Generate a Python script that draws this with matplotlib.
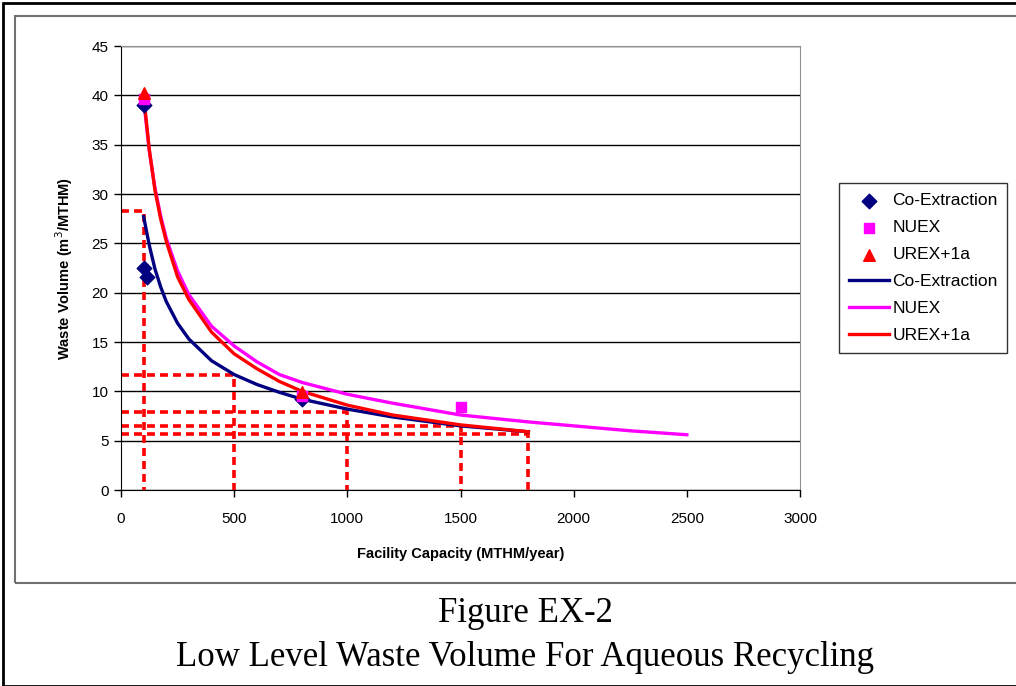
import matplotlib
matplotlib.use("Agg")
import matplotlib.pyplot as plt
from matplotlib.patches import Rectangle

# ---------- data ----------
# point markers (facility capacity, waste volume)
co_pts_x = [100, 100, 115, 800]
co_pts_y = [39.0, 22.5, 21.6, 9.2]
nuex_pts_x = [100, 800, 1500]
nuex_pts_y = [39.6, 9.5, 8.4]
urex_pts_x = [100, 800]
urex_pts_y = [40.2, 9.9]

# fitted curves
cap = [100, 125, 150, 175, 200, 250, 300, 400, 500, 600, 700, 800, 1000, 1200, 1500, 1800]
co_line = [27.7, 24.8, 22.4, 20.6, 19.1, 16.9, 15.3, 13.1, 11.7, 10.7, 9.9, 9.2, 8.2, 7.4, 6.5, 5.9]
urex_line = [40.0, 34.5, 30.4, 27.5, 25.2, 21.6, 19.3, 16.0, 13.8, 12.3, 11.0, 10.0, 8.6, 7.6, 6.6, 5.9]
nuex_cap = [100, 125, 150, 175, 200, 250, 300, 400, 500, 600, 700, 800, 1000, 1200,
            1500, 1800, 2000, 2250, 2500]
nuex_line = [39.5, 34.4, 30.6, 27.8, 25.5, 22.2, 19.8, 16.6, 14.6, 13.0, 11.7, 10.9, 9.7, 8.8,
             7.6, 6.9, 6.5, 6.0, 5.6]

# reference read-off lines (red dashed)
ref_x = [100, 500, 1000, 1500, 1800]
ref_y = [28.3, 11.7, 7.9, 6.5, 5.7]

xticks = [0, 500, 1000, 1500, 2000, 2500, 3000]
yticks = [0, 5, 10, 15, 20, 25, 30, 35, 40, 45]

navy = "#000080"
magenta = "#FF00FF"
red = "#FF0000"

plt.rcParams["font.family"] = ["Liberation Sans", "DejaVu Sans"]

W, H = 1016, 686
fig = plt.figure(figsize=(W / 100, H / 100), dpi=100)

# outer frames
fig.patches.append(Rectangle((3 / W, 0), 1.0, 1 - 3 / H, transform=fig.transFigure,
                             fill=False, edgecolor="black", linewidth=2))
fig.patches.append(Rectangle((15 / W, 1 - 583 / H), 1.0, (583 - 16) / H,
                             transform=fig.transFigure, fill=False,
                             edgecolor="#707070", linewidth=1.5))

ax = fig.add_axes([121 / W, 1 - 490 / H, (800 - 121) / W, (490 - 46) / H])

# red dashed reference lines
for rx, ry in zip(ref_x, ref_y):
    ax.plot([0, rx, rx], [ry, ry, 0], color=red, linestyle=(0, (2.2, 1.4)),
            linewidth=2.6, zorder=2, solid_joinstyle="round")

# curves
ax.plot(cap, co_line, color=navy, linewidth=2.4, zorder=3, label="Co-Extraction")
ax.plot(nuex_cap, nuex_line, color=magenta, linewidth=2.4, zorder=3, label="NUEX")
ax.plot(cap, urex_line, color=red, linewidth=2.4, zorder=4, label="UREX+1a")

# markers
ax.scatter(co_pts_x, co_pts_y, marker="D", s=55, color=navy, zorder=5, label="Co-Extraction")
ax.scatter(nuex_pts_x, nuex_pts_y, marker="s", s=60, color=magenta, zorder=5, label="NUEX")
ax.scatter(urex_pts_x, urex_pts_y, marker="^", s=70, color=red, zorder=6, label="UREX+1a")

ax.set_xlim(0, 3000)
ax.set_ylim(0, 45)
ax.set_xticks(xticks)
ax.set_yticks(yticks)
ax.tick_params(labelsize=11, length=5, width=1, colors="black", pad=4)
ax.tick_params(axis="x", pad=11)
ax.grid(axis="y", color="black", linewidth=1)
ax.set_axisbelow(True)
for s in ["top", "right"]:
    ax.spines[s].set_color("#909090")
for s in ["left", "bottom"]:
    ax.spines[s].set_color("black")

ax.set_xlabel("Facility Capacity (MTHM/year)", fontsize=10.5, fontweight="bold", labelpad=15)
ax.set_ylabel("Waste Volume (m$^3$/MTHM)", fontsize=10.5, fontweight="bold", labelpad=12)

# legend: markers first, then lines
h, l = ax.get_legend_handles_labels()
order = [3, 4, 5, 0, 1, 2]
leg = ax.legend([h[i] for i in order], [l[i] for i in order], loc="center left",
                bbox_to_anchor=(1.058, 0.5), fontsize=12.5, frameon=True, fancybox=False,
                edgecolor="black", handlelength=2.3, handletextpad=0.2,
                borderpad=0.55, labelspacing=0.68, scatterpoints=1, borderaxespad=0)
leg.get_frame().set_linewidth(1)

# caption
fig.text(525 / W, 1 - 613 / H, "Figure EX-2", ha="center", va="center",
         fontsize=25, family="Liberation Serif")
fig.text(525 / W, 1 - 657 / H, "Low Level Waste Volume For Aqueous Recycling",
         ha="center", va="center", fontsize=25, family="Liberation Serif")

fig.savefig("out.png", dpi=100)
